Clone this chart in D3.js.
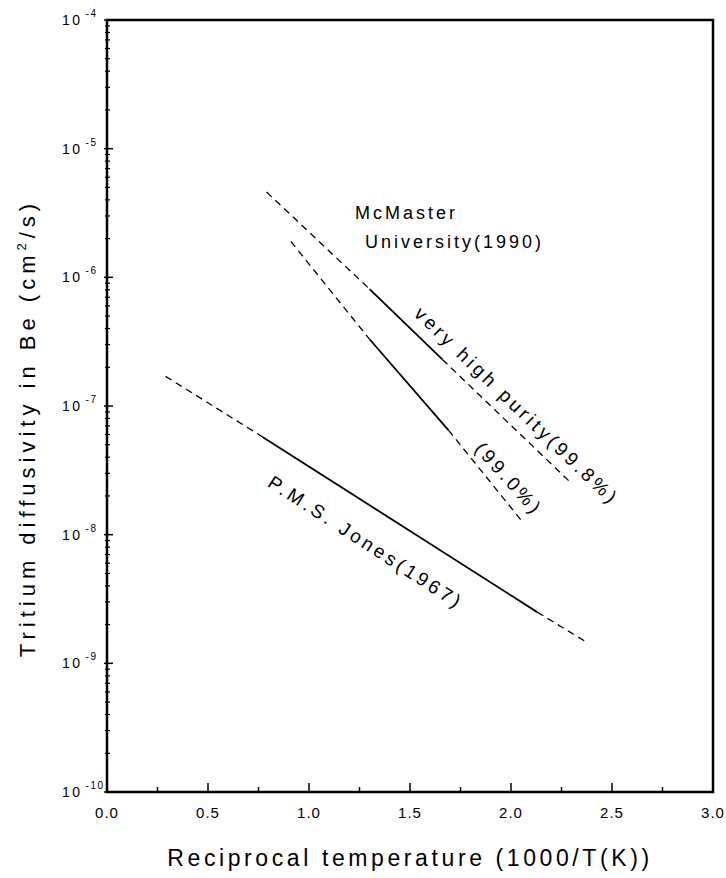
<!DOCTYPE html>
<html>
<head>
<meta charset="utf-8">
<script src="https://cdn.jsdelivr.net/npm/d3@7.9.0/dist/d3.min.js"></script>
<style>
  body { margin: 0; background: #fff; }
  svg { display: block; font-family: "Liberation Sans", Arial, sans-serif; }
</style>
</head>
<body>
<svg id="chart" width="726" height="878"></svg>
<script>
// tick values
const xTicks = [0, 0.5, 1.0, 1.5, 2.0, 2.5, 3.0];
const xMinor = [0.25, 0.75, 1.25, 1.75, 2.25, 2.75];
const yExponents = [-4, -5, -6, -7, -8, -9, -10];

// each series: [1000/T, D (cm2/s)], segments dashed / solid / dashed
const highPurity = [[0.79, 4.6e-6], [1.30, 8.1e-7], [1.66, 2.3e-7], [2.30, 2.5e-8]];
const lowPurity  = [[0.91, 1.9e-6], [1.30, 3.3e-7], [1.69, 6.5e-8], [2.06, 1.24e-8]];
const jones      = [[0.29, 1.7e-7], [0.77, 5.75e-8], [2.13, 2.5e-9], [2.38, 1.44e-9]];

// annotation anchors in data units
const labels = [
  { text: "McMaster",                x: 1.228, d: 2.84e-6, angle: 0,  size: 18, ls: 3 },
  { text: "University(1990)",        x: 1.277, d: 1.69e-6, angle: 0,  size: 18, ls: 3 },
  { text: "very high purity(99.8%)", x: 1.515, d: 5.1e-7,  angle: 44, size: 19, ls: 3.5 },
  { text: "(99.0%)",                 x: 1.815, d: 4.6e-8,  angle: 48, size: 19, ls: 3.5 },
  { text: "P.M.S. Jones(1967)",      x: 0.790, d: 2.4e-8,  angle: 33, size: 19, ls: 3.5 }
];

const svg = d3.select("#chart");
const mLeft = 107, mRight = 713, mTop = 20, mBottom = 792;

const x = d3.scaleLinear().domain([0, 3]).range([mLeft, mRight]);
const y = d3.scaleLog().domain([1e-10, 1e-4]).range([mBottom, mTop]);

// frame
svg.append("rect")
  .attr("x", mLeft).attr("y", mTop)
  .attr("width", mRight - mLeft).attr("height", mBottom - mTop)
  .attr("fill", "none").attr("stroke", "#000").attr("stroke-width", 2.5);

// x ticks (inward)
svg.selectAll(".xmaj").data(xTicks).enter().append("line")
  .attr("x1", d => x(d)).attr("x2", d => x(d))
  .attr("y1", mBottom).attr("y2", mBottom - 9)
  .attr("stroke", "#000").attr("stroke-width", 1.5);
svg.selectAll(".xmin").data(xMinor).enter().append("line")
  .attr("x1", d => x(d)).attr("x2", d => x(d))
  .attr("y1", mBottom).attr("y2", mBottom - 5)
  .attr("stroke", "#000").attr("stroke-width", 1.5);

svg.selectAll(".xlab").data(xTicks).enter().append("text")
  .attr("x", d => x(d)).attr("y", mBottom + 26)
  .attr("text-anchor", "middle")
  .attr("font-size", 15).attr("letter-spacing", 1)
  .text(d => d3.format(".1f")(d));

// y ticks: decades and minor 2..9
const yMinor = [];
yExponents.slice(0, -1).forEach(e => {
  for (let m = 2; m <= 9; m++) yMinor.push(m * Math.pow(10, e - 1));
});
svg.selectAll(".ymaj").data(yExponents).enter().append("line")
  .attr("x1", mLeft - 3).attr("x2", mLeft + 6)
  .attr("y1", d => y(Math.pow(10, d))).attr("y2", d => y(Math.pow(10, d)))
  .attr("stroke", "#000").attr("stroke-width", 1.5);
svg.selectAll(".ymin").data(yMinor).enter().append("line")
  .attr("x1", mLeft - 2).attr("x2", mLeft + 3)
  .attr("y1", d => y(d)).attr("y2", d => y(d))
  .attr("stroke", "#000").attr("stroke-width", 1.2);

const ylab = svg.selectAll(".ylab").data(yExponents).enter().append("text")
  .attr("x", 62).attr("y", d => y(Math.pow(10, d)) + 5)
  .attr("font-size", 14).attr("letter-spacing", 2.5);
ylab.append("tspan").text("10");
ylab.append("tspan").attr("dx", 3).attr("dy", -8).attr("font-size", 10)
  .attr("letter-spacing", 1.5).text(d => "-" + Math.abs(d));

// series
const line = d3.line().x(d => x(d[0])).y(d => y(d[1]));
[highPurity, lowPurity, jones].forEach(series => {
  [[0, 1, true], [1, 2, false], [2, 3, true]].forEach(([a, b, dashed]) => {
    svg.append("path")
      .attr("d", line([series[a], series[b]]))
      .attr("fill", "none").attr("stroke", "#000")
      .attr("stroke-width", dashed ? 1.3 : 1.8)
      .attr("stroke-dasharray", dashed ? "7,5" : null);
  });
});

// annotations
svg.selectAll(".ann").data(labels).enter().append("text")
  .attr("transform", d => `translate(${x(d.x)},${y(d.d)}) rotate(${d.angle})`)
  .attr("font-size", d => d.size).attr("letter-spacing", d => d.ls)
  .text(d => d.text);

// axis titles
svg.append("text")
  .attr("x", 410).attr("y", 866)
  .attr("text-anchor", "middle")
  .attr("font-size", 23).attr("letter-spacing", 3.6)
  .text("Reciprocal temperature (1000/T(K))");

const yt = svg.append("text")
  .attr("transform", "translate(35,428) rotate(-90)")
  .attr("text-anchor", "middle")
  .attr("font-size", 22).attr("letter-spacing", 5);
yt.append("tspan").text("Tritium diffusivity in Be (cm");
yt.append("tspan").attr("dy", -9).attr("font-size", 13).text("2");
yt.append("tspan").attr("dy", 9).text("/s)");
</script>
</body>
</html>
